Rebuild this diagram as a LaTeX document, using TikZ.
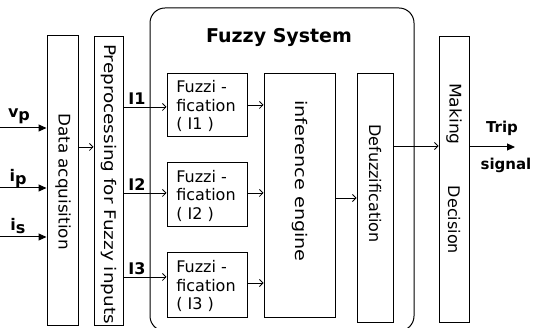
\documentclass[tikz,border=0pt]{standalone}
\usepackage{fontspec}
\setmainfont{DejaVu Sans}
\usetikzlibrary{arrows.meta}
\begin{document}
\begin{tikzpicture}[x=1pt,y=-1pt,
  box/.style={draw,line width=1pt,inner sep=0pt},
  rot/.style={rotate=-90,inner sep=0pt,font=\fontsize{16}{19}\selectfont},
  ftxt/.style={inner sep=0pt,align=left,font=\fontsize{16}{18.5}\selectfont},
  lbl/.style={inner sep=0pt,font=\bfseries\fontsize{16}{19}\selectfont},
  oarr/.style={-{Straight Barb[length=3.5pt,width=7pt]},line width=0.8pt},
  farr/.style={-{Triangle[length=8pt,width=7pt]},line width=1pt}]
\useasboundingbox (0,0) rectangle (533,328);
% fuzzy system frame
\node[draw,line width=1pt,rounded corners=15pt,minimum width=264pt,minimum height=323pt,inner sep=0pt] (fs) at (282,169.5) {};
\node[inner sep=0pt,font=\bfseries\fontsize{19}{22}\selectfont] (fst) at (279,38) {Fuzzy System};
% boxes
\node[box,minimum width=31pt,minimum height=290pt] (da) at (62.5,181) {};
\node[rot] (dat) at (63,181.5) {\scalebox{1.05}[1]{Data acquisition}};
\node[box,minimum width=29pt,minimum height=289pt] (pp) at (108.5,181.5) {};
\node[rot] (ppt) at (108.5,184) {\scalebox{1.15}[1]{Preprocessing for Fuzzy inputs}};
\node[box,minimum width=80pt,minimum height=63pt] (f1) at (207,105.5) {};
\node[ftxt] (f1t) at (206,106) {Fuzzi -\\fication\\( I1 )};
\node[box,minimum width=80pt,minimum height=64pt] (f2) at (207,195) {};
\node[ftxt] (f2t) at (206,195.5) {Fuzzi -\\fication\\( I2 )};
\node[box,minimum width=80pt,minimum height=65pt] (f3) at (207,285.5) {};
\node[ftxt] (f3t) at (206,286) {Fuzzi -\\fication\\( I3 )};
\node[box,minimum width=71pt,minimum height=244pt] (ie) at (299.5,196) {};
\node[rot] (iet) at (299.5,181) {\scalebox{1.2}[1]{inference engine}};
\node[box,minimum width=36pt,minimum height=249pt] (dz) at (375,198.5) {};
\node[rot] (dzt) at (375,183.5) {Defuzzification};
\node[box,minimum width=30pt,minimum height=286pt] (mk) at (454,180) {};
\node[rot] (mkt1) at (454,114) {\scalebox{1.07}[1]{Making}};
\node[rot] (mkt2) at (454,220) {Decision};
% inputs
\coordinate (vp) at (0,128);
\coordinate (ip) at (0,188);
\coordinate (is) at (0,237);
\draw[farr] (vp) -- (vp -| da.west);
\draw[farr] (ip) -- (ip -| da.west);
\draw[farr] (is) -- (is -| da.west);
\node[lbl] (lvp) at (19,116) {v\raisebox{-3pt}{p}};
\node[lbl] (lip) at (18,179) {i\raisebox{-3pt}{p}};
\node[lbl] (lis) at (18,226) {i\raisebox{-3pt}{s}};
% data -> preprocessing
\coordinate (c1) at (78,147);
\draw[oarr] (c1 -| da.east) -- (c1 -| pp.west);
% preprocessing -> fuzzification
\coordinate (y1) at (0,107);
\coordinate (y2) at (0,193);
\coordinate (y3) at (0,277);
\draw[oarr] (y1 -| pp.east) -- (y1 -| f1.west);
\draw[oarr] (y2 -| pp.east) -- (y2 -| f2.west);
\draw[oarr] (y3 -| pp.east) -- (y3 -| f3.west);
\node[lbl,anchor=south] (l1) at (137,105) {I1};
\node[lbl,anchor=south] (l2) at (137,191) {I2};
\node[lbl,anchor=south] (l3) at (137,275) {I3};
% fuzzification -> inference
\coordinate (z1) at (0,105);
\coordinate (z2) at (0,193);
\coordinate (z3) at (0,283);
\draw[oarr] (z1 -| f1.east) -- (z1 -| ie.west);
\draw[oarr] (z2 -| f2.east) -- (z2 -| ie.west);
\draw[oarr] (z3 -| f3.east) -- (z3 -| ie.west);
% inference -> defuzz
\coordinate (w1) at (0,198);
\draw[oarr] (w1 -| ie.east) -- (w1 -| dz.west);
% defuzz -> making
\coordinate (w2) at (0,146);
\draw[oarr] (w2 -| dz.east) -- (w2 -| mk.west);
% output
\coordinate (trip) at (515,147);
\draw[farr] (trip -| mk.east) -- (trip);
\node[lbl,font=\bfseries\fontsize{15}{18}\selectfont] (lt) at (502,128) {Trip};
\node[lbl,font=\bfseries\fontsize{15}{18}\selectfont] (ls) at (506,165) {signal};
\end{tikzpicture}
\end{document}
